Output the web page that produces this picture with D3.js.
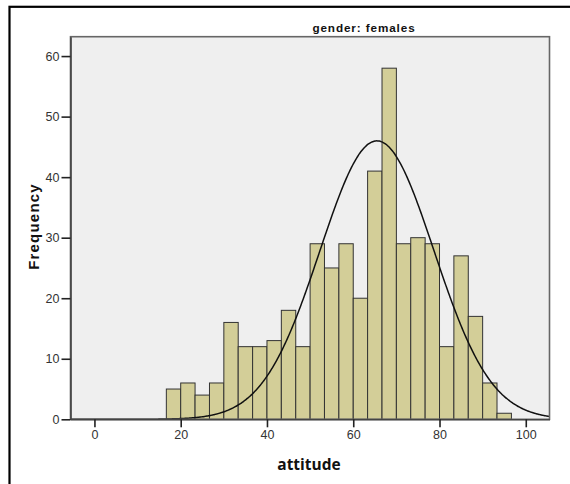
<!DOCTYPE html>
<html>
<head>
<meta charset="utf-8">
<script src="https://cdn.jsdelivr.net/npm/d3@7"></script>
<style>
  html, body { margin: 0; padding: 0; background: #ffffff; }
  svg { display: block; }
</style>
</head>
<body>
<script>
// Histogram of attitude scores (females), with a fitted normal curve.
const panelTitle = "gender: females";
const xTitle = "attitude";
const yTitle = "Frequency";

// Lower edge of each bin, followed by the upper edge of the last bin.
const binEdges = [16.67, 20, 23.33, 26.67, 30, 33.33, 36.67, 40, 43.33, 46.67,
                  50, 53.33, 56.67, 60, 63.33, 66.67, 70, 73.33, 76.67, 80,
                  83.33, 86.67, 90, 93.33, 96.67];
// Count per bin.
const binCounts = [5, 6, 4, 6, 16, 12, 12, 13, 18, 12,
                   29, 25, 29, 20, 41, 58, 29, 30, 29, 12,
                   27, 17, 6, 1];

const xTicks = [0, 20, 40, 60, 80, 100];
const yTicks = [0, 10, 20, 30, 40, 50, 60];
const xExtent = [-5.55, 105.5];
const yExtent = [0, 63.2];

// Normal curve parameters.
const curveMean = 65.5;
const curveSD = 13.2;

const W = 570, H = 484;
const margin = { top: 36.7, right: 20.5, bottom: 64.7, left: 70.5 };

const svg = d3.select("body").append("svg")
  .attr("width", W).attr("height", H);

// Outer frame (left and top edges visible).
svg.append("rect")
  .attr("x", 9.5).attr("y", 6.8)
  .attr("width", W + 20).attr("height", H + 20)
  .attr("fill", "none").attr("stroke", "#000").attr("stroke-width", 2.2);

const x = d3.scaleLinear().domain(xExtent).range([margin.left, W - margin.right]);
const y = d3.scaleLinear().domain(yExtent).range([H - margin.bottom, margin.top]);

// Plot background
svg.append("rect")
  .attr("x", x(xExtent[0])).attr("y", y(yExtent[1]))
  .attr("width", x(xExtent[1]) - x(xExtent[0]))
  .attr("height", y(yExtent[0]) - y(yExtent[1]))
  .attr("fill", "#efefef");

svg.append("clipPath").attr("id", "plot-clip")
  .append("rect")
  .attr("x", x(xExtent[0])).attr("y", y(yExtent[1]))
  .attr("width", x(xExtent[1]) - x(xExtent[0]))
  .attr("height", y(yExtent[0]) - y(yExtent[1]));

// Bars
const bins = binCounts.map((c, i) => ({ x0: binEdges[i], x1: binEdges[i + 1], n: c }));
svg.append("g")
  .selectAll("rect")
  .data(bins)
  .join("rect")
  .attr("x", d => x(d.x0))
  .attr("y", d => y(d.n))
  .attr("width", d => x(d.x1) - x(d.x0))
  .attr("height", d => y(0) - y(d.n))
  .attr("fill", "#d3ce98")
  .attr("stroke", "#333")
  .attr("stroke-width", 1);

// Normal curve scaled to counts: N * binWidth * pdf
const total = d3.sum(binCounts);
const binWidth = binEdges[1] - binEdges[0];
const pdf = v => Math.exp(-0.5 * ((v - curveMean) / curveSD) ** 2) / (curveSD * Math.sqrt(2 * Math.PI));
const curvePts = d3.range(xExtent[0], xExtent[1] + 0.2, 0.2).map(v => [v, total * binWidth * pdf(v)]);
svg.append("path")
  .datum(curvePts)
  .attr("clip-path", "url(#plot-clip)")
  .attr("fill", "none")
  .attr("stroke", "#111")
  .attr("stroke-width", 1.5)
  .attr("d", d3.line().x(d => x(d[0])).y(d => y(d[1])).curve(d3.curveMonotoneX));

// Plot frame
svg.append("rect")
  .attr("x", x(xExtent[0])).attr("y", y(yExtent[1]))
  .attr("width", x(xExtent[1]) - x(xExtent[0]))
  .attr("height", y(yExtent[0]) - y(yExtent[1]))
  .attr("fill", "none").attr("stroke", "#666").attr("stroke-width", 1.6);

// Axes
const tickFont = "'Liberation Sans', Arial, sans-serif";
const yAxis = svg.append("g")
  .attr("transform", `translate(${x(xExtent[0])},0)`)
  .call(d3.axisLeft(y).tickValues(yTicks).tickSize(9).tickSizeOuter(0).tickPadding(2).tickFormat(d3.format("d")));
const xAxis = svg.append("g")
  .attr("transform", `translate(0,${y(0)})`)
  .call(d3.axisBottom(x).tickValues(xTicks).tickSize(8).tickSizeOuter(0).tickPadding(3).tickFormat(d3.format("d")));

[yAxis, xAxis].forEach(g => {
  g.select(".domain").attr("stroke", "#444").attr("stroke-width", 1.6);
  g.selectAll(".tick line").attr("stroke", "#222").attr("stroke-width", 1.6);
  g.selectAll(".tick text")
    .attr("fill", "#333")
    .style("font-family", tickFont)
    .style("font-size", "12.5px");
});

// Titles
svg.append("text")
  .attr("x", 364).attr("y", 31.7)
  .attr("text-anchor", "middle")
  .style("font-family", "'Liberation Sans', Arial, sans-serif")
  .style("font-weight", "bold")
  .style("font-size", "11.7px")
  .style("letter-spacing", "0.9px")
  .attr("fill", "#111")
  .text(panelTitle);

svg.append("text")
  .attr("transform", "translate(39,226.5) rotate(-90)")
  .attr("text-anchor", "middle")
  .style("font-family", "'Liberation Sans', Arial, sans-serif")
  .style("font-weight", "bold")
  .style("font-size", "15px")
  .style("letter-spacing", "1.2px")
  .attr("fill", "#111")
  .text(yTitle);

svg.append("text")
  .attr("x", 309).attr("y", 470)
  .attr("text-anchor", "middle")
  .style("font-family", "'Open Sans', sans-serif")
  .style("font-weight", "bold")
  .style("font-size", "15.5px")
  .attr("fill", "#111")
  .text(xTitle);
</script>
</body>
</html>
